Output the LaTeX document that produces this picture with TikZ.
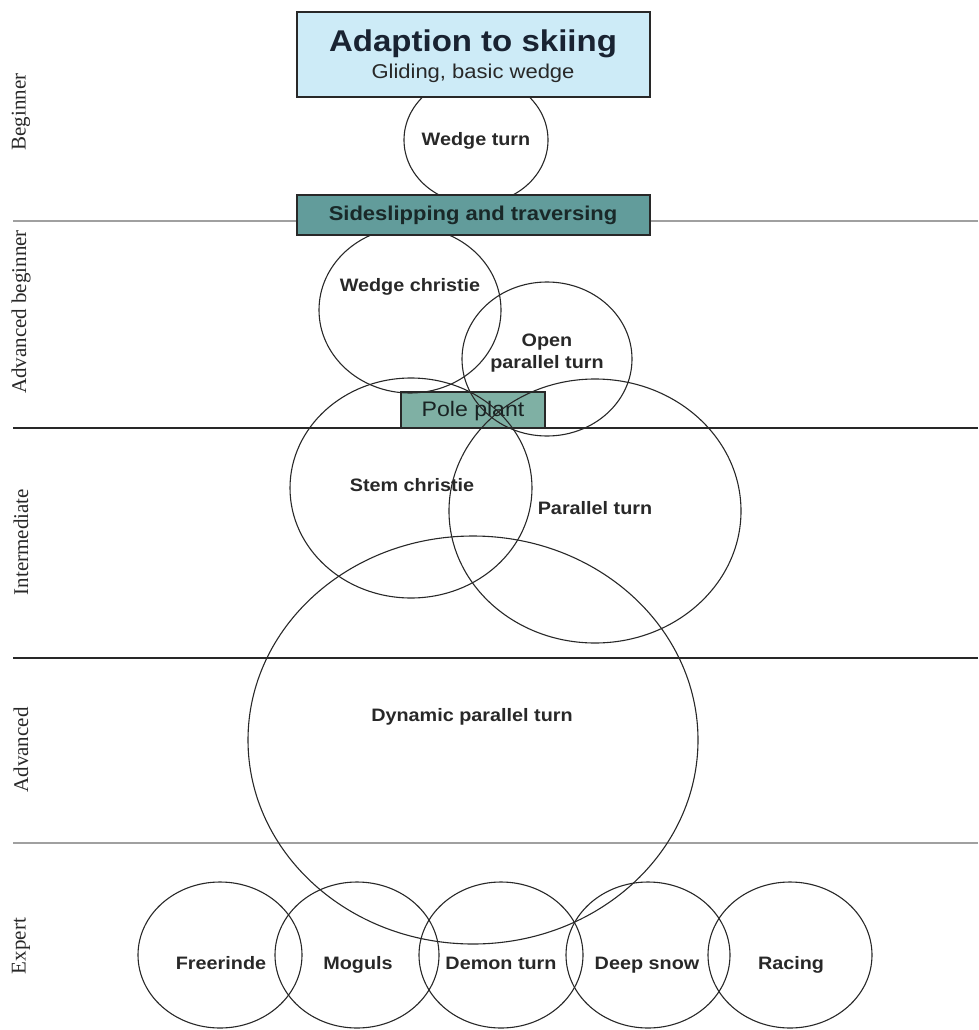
\documentclass[tikz,border=0pt]{standalone}
\usepackage{fontspec}
\setmainfont{Liberation Serif}
\setsansfont{Liberation Sans}[FakeStretch=1.1]
\definecolor{topblue}{RGB}{205,235,247}
\definecolor{tealbox}{RGB}{98,156,155}
\definecolor{poleteal}{RGB}{127,176,164}
\definecolor{ink}{RGB}{40,40,40}
\definecolor{grayline}{RGB}{160,160,160}
\tikzset{
  zone/.style={line width=1.3pt},
  ring/.style={draw=ink, line width=1.1pt},
  ringfont/.style={font=\sffamily\bfseries\fontsize{18}{22}\selectfont, text=ink, align=center},
  ringtext/.style={ringfont, text height=13pt, text depth=4pt},
  levellabel/.style={font=\rmfamily\fontsize{21}{24}\selectfont, text=ink, rotate=90},
  boxstyle/.style={draw=ink, line width=1.3pt, inner sep=0pt},
}
\begin{document}
\begin{tikzpicture}[x=1pt,y=-1pt]
\useasboundingbox (0,0) rectangle (978,1030);
% level lines
\coordinate (l1a) at (13,221); \coordinate (l1b) at (978,221);
\coordinate (l2a) at (13,428); \coordinate (l2b) at (978,428);
\coordinate (l3a) at (13,658); \coordinate (l3b) at (978,658);
\coordinate (l4a) at (13,843); \coordinate (l4b) at (978,843);
\draw[zone, draw=grayline] (l1a) -- (l1b);
\draw[zone, draw=ink] (l2a) -- (l2b);
\draw[zone, draw=ink] (l3a) -- (l3b);
\draw[zone, draw=grayline] (l4a) -- (l4b);
% level labels
\node[levellabel] (beg) at (21,112) {Beginner};
\node[levellabel] (advbeg) at (21,312) {Advanced beginner};
\node[levellabel] (inter) at (21,542) {Intermediate};
\node[levellabel] (adv) at (21,750) {Advanced};
\node[levellabel] (exp) at (21,946) {Expert};
% pole plant box
\node[boxstyle, fill=poleteal, minimum width=144pt, minimum height=36pt] (pole) at (473,410) {};
\node[font=\sffamily\fontsize{21}{24}\selectfont, text={rgb,255:red,25;green,35;blue,35}, text height=15pt, text depth=4pt] (poletxt) at (473,411) {Pole plant};
% circles
\draw[ring] (410,310) ellipse [x radius=91, y radius=83];
\draw[ring] (547,359) ellipse [x radius=85, y radius=77];
\draw[ring] (411,488) ellipse [x radius=121, y radius=110];
\draw[ring] (595,511) ellipse [x radius=146, y radius=132];
\draw[ring] (473,740) ellipse [x radius=225, y radius=204];
\draw[ring] (220,955) ellipse [x radius=82, y radius=73];
\draw[ring] (357,955) ellipse [x radius=82, y radius=73];
\draw[ring] (501,955) ellipse [x radius=82, y radius=73];
\draw[ring] (648,955) ellipse [x radius=82, y radius=73];
\draw[ring] (790,955) ellipse [x radius=82, y radius=73];
\draw[ring] (476,140) ellipse [x radius=72, y radius=64];
% circle labels
\node[ringtext] (wt) at (476,141) {Wedge turn};
\node[ringtext] (wc) at (410,287) {Wedge christie};
\node[ringfont] (opt) at (547,353) {Open\\parallel turn};
\node[ringtext] (sc) at (412,487) {Stem christie};
\node[ringtext] (pt) at (595,510) {Parallel turn};
\node[ringtext] (dpt) at (472,717) {Dynamic parallel turn};
\node[ringtext] (fr) at (221,965) {Freerinde};
\node[ringtext] (mo) at (358,965) {Moguls};
\node[ringtext] (dt) at (501,965) {Demon turn};
\node[ringtext] (ds) at (647,965) {Deep snow};
\node[ringtext] (ra) at (791,965) {Racing};
% top boxes
\node[boxstyle, fill=topblue, minimum width=353pt, minimum height=85pt] (adapt) at (473.5,54.5) {};
\node[font=\sffamily\bfseries\fontsize{30}{34}\selectfont, text={rgb,255:red,25;green,35;blue,50}] (adapttitle) at (473,44) {Adaption to skiing};
\node[font=\sffamily\fontsize{20}{24}\selectfont, text=ink] (adaptsub) at (473,73) {Gliding, basic wedge};
\node[boxstyle, fill=tealbox, minimum width=353pt, minimum height=40pt] (side) at (473.5,215) {};
\node[font=\sffamily\bfseries\fontsize{20}{24}\selectfont, text={rgb,255:red,25;green,40;blue,40}] (sidetxt) at (473,215) {Sideslipping and traversing};
\end{tikzpicture}
\end{document}
